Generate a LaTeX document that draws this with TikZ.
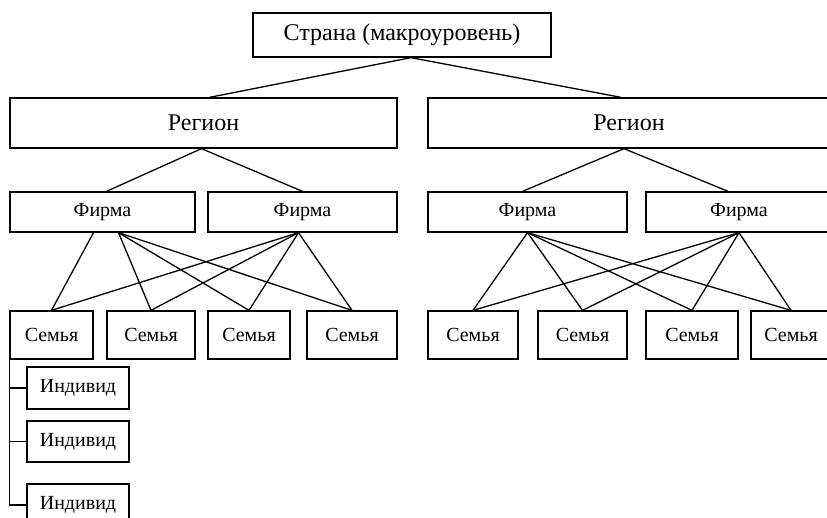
\documentclass[tikz,border=0pt]{standalone}
\usepackage{fontspec}
\setmainfont{Liberation Serif}
\begin{document}
\begin{tikzpicture}[x=1pt, y=-1pt, line width=1.3pt,
        box/.style={draw, rectangle, inner sep=0pt, anchor=center},
        big/.style={box, font=\fontsize{24}{26}\selectfont},
        small/.style={box, font=\fontsize{20}{22}\selectfont}]
        \useasboundingbox (0,0) rectangle (827,517);
        \clip (0,0) rectangle (827,517);

        \node (country) [big, minimum width=298, minimum height=44] at (402,35) {Страна (макроуровень)};
        \node (reg1) [big, minimum width=387, minimum height=50] at (203.5,123) {Регион};
        \node (reg2) [big, minimum width=402, minimum height=50] at (629,123) {Регион};

        \node (firm1) [small, minimum width=185, minimum height=40] at (102.5,212) {Фирма};
        \node (firm2) [small, minimum width=189, minimum height=40] at (302.5,212) {Фирма};
        \node (firm3) [small, minimum width=199, minimum height=40] at (527.5,212) {Фирма};
        \node (firm4) [small, minimum width=186, minimum height=40] at (739,212) {Фирма};

        \node (fam1) [small, minimum width=83, minimum height=48] at (51.5,335) {Семья};
        \node (fam2) [small, minimum width=88, minimum height=48] at (151,335) {Семья};
        \node (fam3) [small, minimum width=82, minimum height=48] at (249,335) {Семья};
        \node (fam4) [small, minimum width=90, minimum height=48] at (352,335) {Семья};
        \node (fam5) [small, minimum width=90, minimum height=48] at (473,335) {Семья};
        \node (fam6) [small, minimum width=89, minimum height=48] at (582.5,335) {Семья};
        \node (fam7) [small, minimum width=92, minimum height=48] at (692,335) {Семья};
        \node (fam8) [small, minimum width=80, minimum height=48] at (791,335) {Семья};

        \node (ind1) [small, minimum width=102, minimum height=42] at (78,388) {Индивид};
        \node (ind2) [small, minimum width=102, minimum height=41] at (78,441.5) {Индивид};
        \node (ind3) [small, minimum width=102, minimum height=42] at (78,505) {Индивид};

        \draw ([xshift=9]country.south) -- ([xshift=6]reg1.north);
        \draw ([xshift=9]country.south) -- ([xshift=-8]reg2.north);
        \draw ([xshift=-2]reg1.south) -- ([xshift=4]firm1.north);
        \draw ([xshift=-2]reg1.south) -- (firm2.north);
        \draw ([xshift=-5]reg2.south) -- ([xshift=-5]firm3.north);
        \draw ([xshift=-5]reg2.south) -- ([xshift=-11]firm4.north);

        \draw ([xshift=-9]firm1.south) -- (fam1.north);
        \foreach \f in {fam2,fam3,fam4}
            \draw ([xshift=16]firm1.south) -- (\f.north);
        \foreach \f in {fam1,fam2,fam3,fam4}
            \draw ([xshift=-4]firm2.south) -- (\f.north);
        \foreach \f in {fam5,fam6,fam7,fam8} {
            \draw (firm3.south) -- (\f.north);
            \draw (firm4.south) -- (\f.north);
        }

        \draw (ind1.west) -| (fam1.south west);
        \draw (ind2.west) -| (fam1.south west);
        \draw (ind3.west) -| (fam1.south west);
    \end{tikzpicture}
\end{document}
